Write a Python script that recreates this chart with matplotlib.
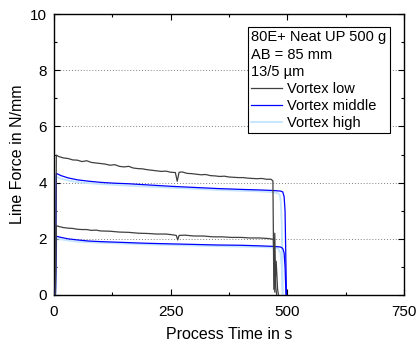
import matplotlib
matplotlib.use("Agg")
import matplotlib.pyplot as plt
from matplotlib.ticker import MultipleLocator

plt.rcParams['font.family'] = ['Liberation Sans', 'DejaVu Sans']

# Vortex low (two force levels)
low_top_t = [3, 5, 10, 20, 30, 40, 50, 60, 70, 80, 90, 100, 110, 120, 130, 140, 150, 160,
             170, 180, 190, 200, 210, 220, 230, 240, 250, 260, 264, 268, 275, 285, 295, 305,
             315, 325, 335, 345, 355, 365, 375, 385, 395, 405, 415, 425, 435, 445, 455, 465,
             469, 471, 473, 475, 477]
low_top_f = [0, 4.98, 4.93, 4.88, 4.86, 4.81, 4.80, 4.75, 4.78, 4.72, 4.70, 4.68, 4.66, 4.62,
             4.64, 4.58, 4.56, 4.58, 4.52, 4.50, 4.49, 4.46, 4.44, 4.42, 4.40, 4.41, 4.37, 4.36,
             4.05, 4.37, 4.38, 4.33, 4.32, 4.30, 4.28, 4.29, 4.25, 4.24, 4.22, 4.23, 4.20, 4.19,
             4.18, 4.18, 4.16, 4.15, 4.14, 4.15, 4.12, 4.12, 4.06, 0.2, 2.2, 0.3, 0]
low_bot_t = [3, 5, 10, 20, 30, 40, 50, 60, 70, 80, 90, 100, 120, 140, 160, 180, 200, 220, 240,
             255, 262, 265, 268, 280, 300, 320, 340, 360, 380, 400, 420, 440, 460, 470, 473,
             476, 479, 481]
low_bot_f = [0, 2.47, 2.44, 2.40, 2.38, 2.37, 2.34, 2.33, 2.33, 2.30, 2.31, 2.28, 2.27, 2.24,
             2.23, 2.20, 2.19, 2.17, 2.17, 2.14, 2.12, 1.96, 2.12, 2.13, 2.10, 2.10, 2.07, 2.07,
             2.05, 2.05, 2.03, 2.03, 2.01, 1.98, 0.1, 1.2, 0.2, 0]

# Vortex middle
mid_top_t = [3, 5, 15, 30, 50, 75, 100, 130, 160, 200, 250, 300, 350, 400, 440, 470, 485, 490,
             493, 495, 496, 498]
mid_top_f = [0, 4.33, 4.25, 4.17, 4.10, 4.05, 4.01, 3.98, 3.96, 3.92, 3.87, 3.83, 3.79, 3.76,
             3.74, 3.72, 3.70, 3.67, 3.5, 3.0, 2.0, 0]
mid_bot_t = [3, 5, 15, 30, 50, 75, 100, 150, 200, 250, 300, 350, 400, 440, 470, 485, 490, 493,
             495, 497]
mid_bot_f = [0, 2.09, 2.05, 2.00, 1.96, 1.92, 1.90, 1.87, 1.84, 1.82, 1.80, 1.78, 1.77, 1.75,
             1.73, 1.71, 1.66, 1.5, 1.0, 0]

# Vortex high
high_top_t = [3, 4, 15, 30, 50, 75, 100, 150, 200, 250, 300, 350, 400, 440, 470, 480, 484, 486,
              488, 490]
high_top_f = [0, 4.21, 4.14, 4.08, 4.02, 3.98, 3.95, 3.90, 3.86, 3.82, 3.78, 3.74, 3.71, 3.69,
              3.66, 3.62, 3.55, 3.3, 2.5, 0]
high_bot_t = [3, 5, 15, 30, 50, 100, 150, 200, 250, 300, 350, 400, 440, 470, 480, 485, 488, 490]
high_bot_f = [0, 2.02, 1.98, 1.94, 1.90, 1.86, 1.83, 1.80, 1.78, 1.76, 1.74, 1.72, 1.71, 1.69,
              1.66, 1.5, 1.0, 0]

legend_title = "80E+ Neat UP 500 g\nAB = 85 mm\n13/5 µm"

fig = plt.figure(figsize=(4.17, 3.45), dpi=100)
ax = fig.add_axes([0.1295, 0.145, 0.8395, 0.814])

c_low, c_mid, c_high = '#404040', '#0000ff', '#c4e4ff'
ax.plot(high_top_t, high_top_f, color=c_high, lw=1.3, zorder=2, label='Vortex high')
ax.plot(high_bot_t, high_bot_f, color=c_high, lw=1.3, zorder=2)
ax.plot(mid_top_t, mid_top_f, color=c_mid, lw=0.9, zorder=3, label='Vortex middle')
ax.plot(mid_bot_t, mid_bot_f, color=c_mid, lw=0.9, zorder=3)
ax.plot(low_top_t, low_top_f, color=c_low, lw=0.9, zorder=4, label='Vortex low')
ax.plot(low_bot_t, low_bot_f, color=c_low, lw=0.9, zorder=4)

for y in [2, 4, 6, 8]:
    ax.axhline(y, color='#808080', lw=0.7, ls=(0, (1, 2)), zorder=1)

ax.set_xlim(0, 750)
ax.set_ylim(0, 10)
ax.xaxis.set_major_locator(MultipleLocator(250))
ax.xaxis.set_minor_locator(MultipleLocator(125))
ax.yaxis.set_major_locator(MultipleLocator(2))
ax.yaxis.set_minor_locator(MultipleLocator(1))
ax.tick_params(which='both', direction='in', top=True, right=True, labelsize=11)
ax.tick_params(which='major', length=4, width=0.8)
ax.tick_params(axis='x', which='major', pad=7)
ax.tick_params(axis='y', which='major', pad=5)
ax.tick_params(which='minor', length=2.5, width=0.8)
for s in ax.spines.values():
    s.set_linewidth(1.0)

ax.set_xlabel('Process Time in s', fontsize=11.5, labelpad=6)
ax.set_ylabel('Line Force in N/mm', fontsize=11.5, labelpad=4)

h, l = ax.get_legend_handles_labels()
leg = ax.legend(h[::-1], l[::-1], title=legend_title, loc='upper right',
                bbox_to_anchor=(0.96, 0.955), fontsize=10.5, title_fontproperties={'size': 10.5},
                alignment='left', frameon=True, fancybox=False, edgecolor='black',
                framealpha=1, handlelength=2.1, handletextpad=0.35, labelspacing=0.2,
                borderpad=0.25, borderaxespad=0)
leg.get_title().set_linespacing(1.3)
leg.get_frame().set_linewidth(0.8)

fig.savefig('out.png', dpi=100)
